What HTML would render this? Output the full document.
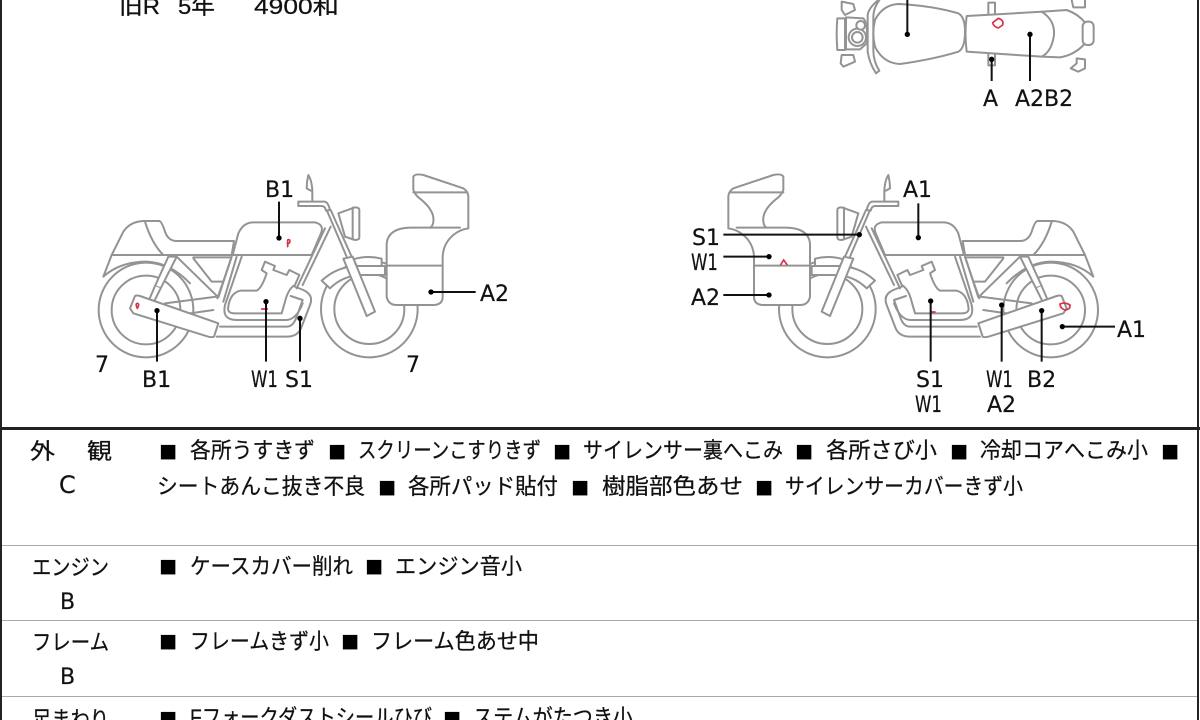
<!DOCTYPE html>
<html lang="ja">
<head>
<meta charset="utf-8">
<title>Inspection sheet</title>
<style>
html,body{margin:0;padding:0;background:#fff;width:1200px;height:720px;overflow:hidden}
svg{display:block;filter:blur(.35px)}
.bk *{fill:none;stroke:#939393;stroke-width:6;stroke-linejoin:round;stroke-linecap:round}
.bk .w{fill:#fff}
.ln *{stroke:#111;stroke-width:6;fill:none}
.dt *{fill:#000;stroke:none}
.red *{fill:none;stroke:#d5334a;stroke-width:5;stroke-linecap:round}
.lb{font-family:"DejaVu Sans",sans-serif;font-size:22px;fill:#111;stroke:#111;stroke-width:.2}
.jp{font-family:"Liberation Sans","Noto Sans CJK JP",sans-serif;font-size:22px;fill:#111;stroke:#111;stroke-width:.25}
.sq{font-family:"DejaVu Sans",sans-serif;font-size:19px;fill:#000}
</style>
</head>
<body>
<svg width="1200" height="720" viewBox="0 0 1200 720" xmlns="http://www.w3.org/2000/svg">
<defs>
<g id="bike" class="bk">
  <circle cx="198" cy="450" r="142"/>
  <circle cx="198" cy="450" r="103"/>
  <circle cx="868" cy="447" r="145"/>
  <circle cx="868" cy="447" r="105"/>
  <path class="w" d="M725,362 Q775,315 845,318 H915 V345 H850 Q790,345 750,385 Z"/>
  <path class="w" d="M820,298 Q860,285 905,296 V318 H830 Z"/>
  <path class="w" d="M95,285 L130,215 Q150,185 190,183 H238 Q246,186 255,215 Q265,243 290,243 H462 L455,285 Z"/>
  <path d="M195,185 Q215,250 250,285"/>
  <path d="M95,285 L70,350 Q120,305 200,305 Q270,308 330,370"/>
  <path class="w" d="M458,285 L475,220 Q490,187 520,187 H705 Q735,195 722,222 L695,285 Z"/>
  <path d="M95,285 H695"/>
  <path d="M340,292 H450"/>
  <path class="w" d="M265,290 L225,378 L242,385 L290,290 Z"/>
  <path class="w" d="M225,378 L205,425 L222,425 L242,385"/>
  <path d="M290,290 L415,412 L455,290 M340,295 L395,365 H430"/>
  <path d="M455,290 L428,370 L412,415 M470,290 L430,425"/>
  <path d="M735,205 L650,385 M752,200 L668,375"/>
  <path d="M485,290 L435,435 Q425,480 470,480 H620 Q650,478 668,430"/>
  <path class="w" d="M445,440 Q450,400 480,392 H530 Q545,385 560,340 L545,330 L555,305 L585,318 L580,330 L620,345 L628,330 L658,345 L645,375 Q625,385 615,425 L605,460 H465 Q440,460 445,440 Z"/>
  <path d="M640,378 L670,390 Q702,405 690,435 L665,500 Q655,530 620,530 H410"/>
  <path d="M632,408 L668,420 L650,470 Q640,500 620,500 H420"/>
  <path d="M255,430 L410,410 M330,460 L400,450"/>
  <path class="w" d="M150,445 L165,408 Q170,405 180,408 L415,490 L402,530 Q395,533 385,530 L160,460 Z"/>
  <path d="M740,150 L800,290 M752,150 L815,290"/>
  <path class="w" d="M790,296 L818,290 L885,455 L860,468 Z"/>
  <path class="w" d="M655,125 H735 Q745,128 750,150 L738,152 Q735,138 725,138 H655 Z"/>
  <path d="M697,122 V90 Q695,60 685,45 Q680,65 680,85 L692,92"/>
  <path class="w" d="M775,160 L825,142 Q838,142 838,150 V232 Q838,240 825,240 L795,230 Z"/>
  <path d="M818,143 V238"/>
  <path class="w" d="M920,250 V410 Q925,435 950,435 H1060 Q1088,435 1088,410 V290 Q1090,250 1120,225 Q1140,208 1165,205 V110 Q1165,95 1150,85 L1030,45 Q1005,40 1000,50 V90 Q1005,103 1015,112 Q1065,150 1060,185 Q1058,200 1050,203 H990 Q925,205 920,250 Z"/>
  <path d="M1000,97 H1160 M920,317 H1088"/>
  <path d="M1050,203 H1140"/>
</g>
</defs>

<rect width="1200" height="720" fill="#fff"/>

<!-- top text -->
<text class="jp" x="119" y="14" textLength="41" lengthAdjust="spacingAndGlyphs">旧R</text>
<text class="jp" x="178" y="14" textLength="37" lengthAdjust="spacingAndGlyphs">5年</text>
<text class="jp" x="254" y="14" textLength="85" lengthAdjust="spacingAndGlyphs">4900和</text>

<!-- left bike -->
<g transform="translate(80,160) scale(.33333)">
  <use href="#bike"/>
  <g class="red">
    <path d="M623,260 V240 Q630,236 630,245 Q628,252 622,250"/>
    <path d="M172,445 Q165,432 172,430 Q180,432 172,445"/>
    <path d="M545,447 H562"/>
  </g>
  <g class="ln">
    <path d="M597,234 V125 M1053,396 H1187 M231,452 V605 M558,425 V605 M660,475 V605"/>
  </g>
  <g class="dt">
    <circle cx="597" cy="234" r="8"/><circle cx="1053" cy="396" r="8"/><circle cx="231" cy="452" r="8"/><circle cx="558" cy="425" r="8"/><circle cx="660" cy="475" r="8"/>
  </g>
</g>

<!-- right bike -->
<g transform="translate(1116.67,160) scale(-.33333,.33333)"><use href="#bike"/></g>
<g transform="translate(680,160) scale(.33333)">
  <g class="red">
    <path d="M302,314 L311,300 L321,314"/>
    <path d="M1140,432 Q1155,425 1170,435 Q1172,448 1155,450 Q1140,445 1140,432 Z"/>
    <path d="M752,456 H765"/>
  </g>
  <g class="ln">
    <path d="M130,224 H538 M130,290 H267 M130,405 H267 M715,233 V130 M752,423 V605 M965,435 V605 M1085,452 V605 M1147,500 H1305"/>
  </g>
  <g class="dt">
    <circle cx="538" cy="224" r="8"/><circle cx="267" cy="290" r="8"/><circle cx="267" cy="405" r="8"/><circle cx="715" cy="233" r="8"/><circle cx="752" cy="423" r="8"/><circle cx="965" cy="435" r="8"/><circle cx="1085" cy="452" r="8"/><circle cx="1147" cy="500" r="8"/>
  </g>
</g>

<!-- top-view bike -->
<g transform="translate(820,0) scale(.33333)">
  <g class="bk">
    <path class="w" d="M505,40 V8 H525 V40 M505,160 V196 H525 V160"/>
    <path class="w" d="M755,0 L760,22 H795 V0"/>
    <path class="w" d="M770,175 L795,178 V205 L775,215 L752,205 L770,190 Z"/>
    <path class="w" d="M175,0 Q145,25 143,45 V155 Q148,190 168,220 L178,212 Q160,185 160,150 V50 Q160,25 178,0"/>
    <path class="w" d="M165,60 Q190,12 240,12 Q340,18 415,40 Q435,50 435,95 Q435,145 415,155 Q340,178 240,192 Q190,190 165,140 Q155,100 165,60 Z"/>
    <path class="w" d="M440,48 L670,35 L740,30 Q775,42 795,68 V130 Q765,165 720,172 L665,170 L440,155 Q433,100 440,48 Z"/>
    <path d="M665,35 Q705,60 702,105 Q695,155 665,170"/>
    <rect class="w" x="788" y="65" width="33" height="70" rx="14"/>
    <path class="w" d="M52,55 H75 V150 H52 Q48,100 52,55 Z"/>
    <path class="w" d="M65,5 L100,12 L105,30 L75,45 L65,30 Z"/>
    <path class="w" d="M65,165 L100,165 L105,185 L70,200 L62,190 Z"/>
    <path class="w" d="M78,52 L130,55 Q145,70 140,130 L120,148 L78,148 Z"/>
    <circle class="w" cx="112" cy="112" r="26"/>
    <circle class="w" cx="112" cy="112" r="16"/>
    <circle class="w" cx="122" cy="76" r="13"/>
  </g>
  <path d="M518,68 L535,55 Q552,60 548,75 L535,84 Q520,80 518,68 Z" fill="none" stroke="#d5334a" stroke-width="5"/>
  <g class="ln"><path d="M262,0 V103 M630,103 V243 M515,178 V243"/></g>
  <g class="dt"><circle cx="262" cy="103" r="8"/><circle cx="630" cy="103" r="8"/><circle cx="515" cy="178" r="8"/></g>
</g>

<!-- diagram labels -->
<g class="lb">
  <text x="265" y="197">B1</text>
  <text x="142" y="387">B1</text>
  <text x="251" y="387" textLength="27" lengthAdjust="spacingAndGlyphs">W1</text>
  <text x="285" y="387">S1</text>
  <text x="95" y="372">7</text>
  <text x="406" y="372">7</text>
  <text x="480" y="301">A2</text>
  <text x="903" y="197">A1</text>
  <text x="692" y="245">S1</text>
  <text x="691" y="270" textLength="27" lengthAdjust="spacingAndGlyphs">W1</text>
  <text x="691" y="305">A2</text>
  <text x="1117" y="337">A1</text>
  <text x="916" y="387">S1</text>
  <text x="915" y="412" textLength="27" lengthAdjust="spacingAndGlyphs">W1</text>
  <text x="986" y="387" textLength="27" lengthAdjust="spacingAndGlyphs">W1</text>
  <text x="987" y="412">A2</text>
  <text x="1027" y="387">B2</text>
  <text x="983" y="106">A</text>
  <text x="1015" y="106">A2B2</text>
</g>

<!-- table lines -->
<rect x="0" y="0" width="2" height="720" fill="#222"/>
<rect x="1197" y="0" width="2" height="720" fill="#222"/>
<rect x="0" y="427" width="1200" height="3" fill="#222"/>
<rect x="2" y="545" width="1195" height="1" fill="#aaa"/>
<rect x="2" y="620" width="1195" height="1" fill="#aaa"/>
<rect x="2" y="696" width="1195" height="1" fill="#aaa"/>

<!-- left column -->
<g class="jp">
  <text x="30" y="459" textLength="25" lengthAdjust="spacingAndGlyphs">外</text>
  <text x="87" y="459" textLength="25" lengthAdjust="spacingAndGlyphs">観</text>
  <text x="32" y="575" textLength="77" lengthAdjust="spacingAndGlyphs">エンジン</text>
  <text x="32" y="650" textLength="77" lengthAdjust="spacingAndGlyphs">フレーム</text>
  <text x="32" y="727" textLength="77" lengthAdjust="spacingAndGlyphs">足まわり</text>
</g>
<g class="lb">
  <text x="59" y="493" font-size="24" style="font-size:24px">C</text>
  <text x="60" y="609">B</text>
  <text x="60" y="684">B</text>
</g>

<!-- squares -->
<g class="sq" transform="translate(-.7,-3)">
  <text x="160" y="460">■</text><text x="329" y="460">■</text><text x="554" y="460">■</text><text x="796" y="460">■</text><text x="951" y="460">■</text><text x="1162" y="460">■</text>
  <text x="379" y="496">■</text><text x="572" y="496">■</text><text x="756" y="496">■</text>
  <text x="160" y="575">■</text><text x="366" y="575">■</text>
  <text x="160" y="650">■</text><text x="342" y="650">■</text>
  <text x="160" y="727">■</text><text x="444" y="727">■</text>
</g>

<!-- remarks -->
<g class="jp">
  <text x="190" y="458" textLength="125" lengthAdjust="spacingAndGlyphs">各所うすきず</text>
  <text x="358" y="458" textLength="183" lengthAdjust="spacingAndGlyphs">スクリーンこすりきず</text>
  <text x="583" y="458" textLength="200" lengthAdjust="spacingAndGlyphs">サイレンサー裏へこみ</text>
  <text x="826" y="458" textLength="111" lengthAdjust="spacingAndGlyphs">各所さび小</text>
  <text x="980" y="458" textLength="168" lengthAdjust="spacingAndGlyphs">冷却コアへこみ小</text>
  <text x="157" y="494" textLength="208" lengthAdjust="spacingAndGlyphs">シートあんこ抜き不良</text>
  <text x="408" y="494" textLength="150" lengthAdjust="spacingAndGlyphs">各所パッド貼付</text>
  <text x="602" y="494" textLength="141" lengthAdjust="spacingAndGlyphs">樹脂部色あせ</text>
  <text x="785" y="494" textLength="238" lengthAdjust="spacingAndGlyphs">サイレンサーカバーきず小</text>
  <text x="190" y="574" textLength="163" lengthAdjust="spacingAndGlyphs">ケースカバー削れ</text>
  <text x="395" y="574" textLength="127" lengthAdjust="spacingAndGlyphs">エンジン音小</text>
  <text x="190" y="649" textLength="139" lengthAdjust="spacingAndGlyphs">フレームきず小</text>
  <text x="371" y="649" textLength="168" lengthAdjust="spacingAndGlyphs">フレーム色あせ中</text>
  <text x="190" y="725" textLength="242" lengthAdjust="spacingAndGlyphs">Fフォークダストシールひび</text>
  <text x="473" y="725" textLength="160" lengthAdjust="spacingAndGlyphs">ステムがたつき小</text>
</g>
</svg>
</body>
</html>
